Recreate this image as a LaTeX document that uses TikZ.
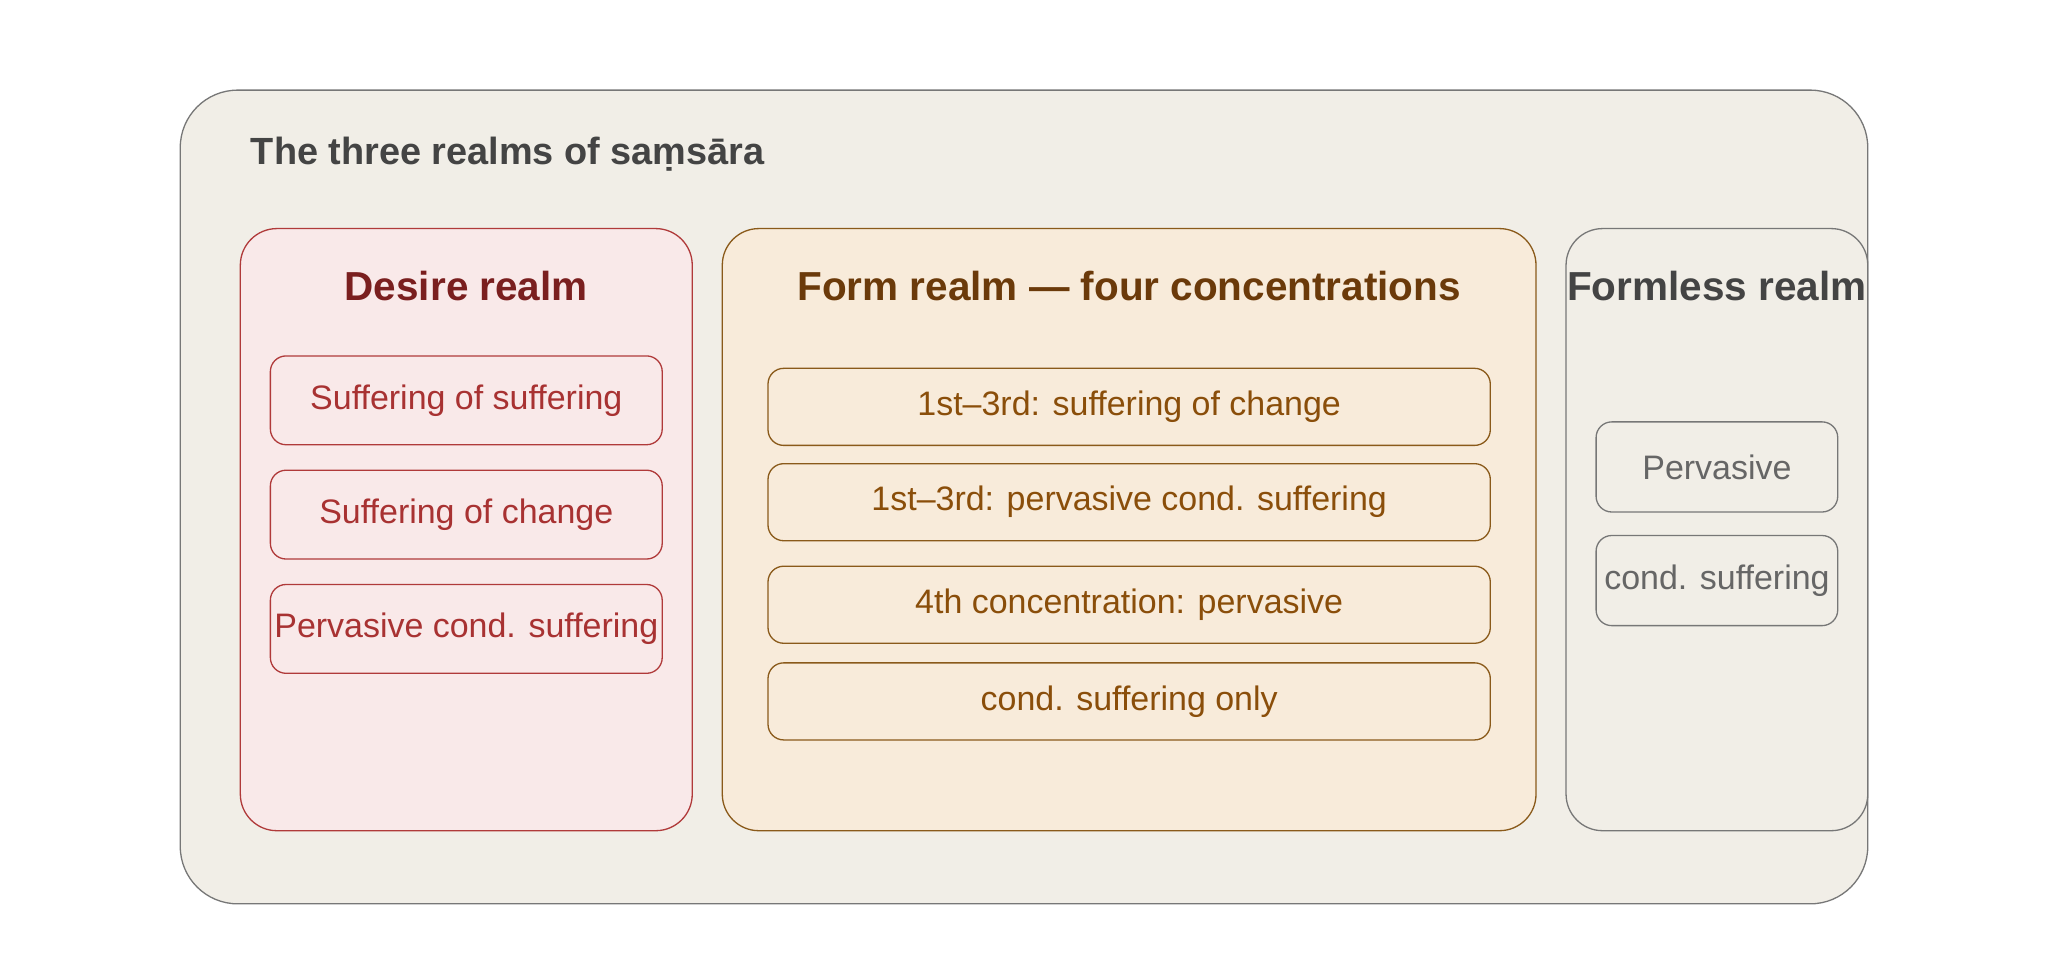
\documentclass[tikz,border=0pt]{standalone}
\usepackage{fontspec}
\setmainfont{Liberation Sans}
\usetikzlibrary{positioning}
\definecolor{outerfill}{HTML}{F1EEE7}
\definecolor{outerline}{HTML}{777777}
\definecolor{greytext}{HTML}{444444}
\definecolor{desirefill}{HTML}{F9E9E9}
\definecolor{desireline}{HTML}{B03A3A}
\definecolor{desiretitle}{HTML}{7A1F1F}
\definecolor{desiretext}{HTML}{A83232}
\definecolor{formfill}{HTML}{F8EBDA}
\definecolor{formline}{HTML}{8A5A1A}
\definecolor{formtitle}{HTML}{6B3A0A}
\definecolor{formtext}{HTML}{8A4E0A}
\definecolor{formlesstext}{HTML}{666666}

\begin{document}
\begin{tikzpicture}[x=0.5pt,y=-0.5pt,
  box/.style={draw,rounded corners=14pt,line width=0.5pt,inner sep=0pt},
  item/.style={draw,rounded corners=6pt,line width=0.5pt,inner sep=0pt,font=\fontsize{13}{15}\selectfont},
  realm/.style={font=\fontsize{15.5}{18}\selectfont\bfseries}]
\useasboundingbox (0,0) rectangle (1568,738);
% outer frame
\draw[fill=outerfill,draw=outerline,rounded corners=22pt,line width=0.5pt] (138,69) rectangle (1430,692);
\node[anchor=west,text=greytext,font=\fontsize{14.5}{17}\selectfont\bfseries] (title) at (185,118) {The three realms of saṃsāra};

% desire realm
\node[box,fill=desirefill,draw=desireline,minimum width=173pt,minimum height=230.5pt] (desire) at (357,405.5) {};
\node[realm,text=desiretitle] (desireT) at (357,219) {Desire realm};
\foreach \y/\t/\n in {306.5/Suffering of suffering/dA,394/Suffering of change/dB,481.5/Pervasive cond. suffering/dC}
  \node[item,draw=desireline,text=desiretext,minimum width=150pt,minimum height=34pt] (\n) at (357,\y) {\t};

% form realm
\node[box,fill=formfill,draw=formline,minimum width=311.5pt,minimum height=230.5pt] (form) at (864.5,405.5) {};
\node[realm,text=formtitle] (formT) at (864.5,219) {Form realm — four concentrations};
\foreach \y/\t/\n in {311.5/1st–3rd: suffering of change/fA,384.5/1st–3rd: pervasive cond. suffering/fB,463/4th concentration: pervasive/fC,537/cond. suffering only/fD}
  \node[item,draw=formline,text=formtext,minimum width=276.5pt,minimum height=29.5pt] (\n) at (864.5,\y) {\t};

% formless realm
\node[box,fill=outerfill,draw=outerline,minimum width=115.5pt,minimum height=230.5pt] (formless) at (1314.5,405.5) {};
\node[realm,text=greytext] (formlessT) at (1314.5,219) {Formless realm};
\foreach \y/\t/\n in {357.5/Pervasive/lA,444.5/cond. suffering/lB}
  \node[item,draw=outerline,text=formlesstext,minimum width=92.5pt,minimum height=34.5pt] (\n) at (1314.5,\y) {\t};
\end{tikzpicture}
\end{document}
